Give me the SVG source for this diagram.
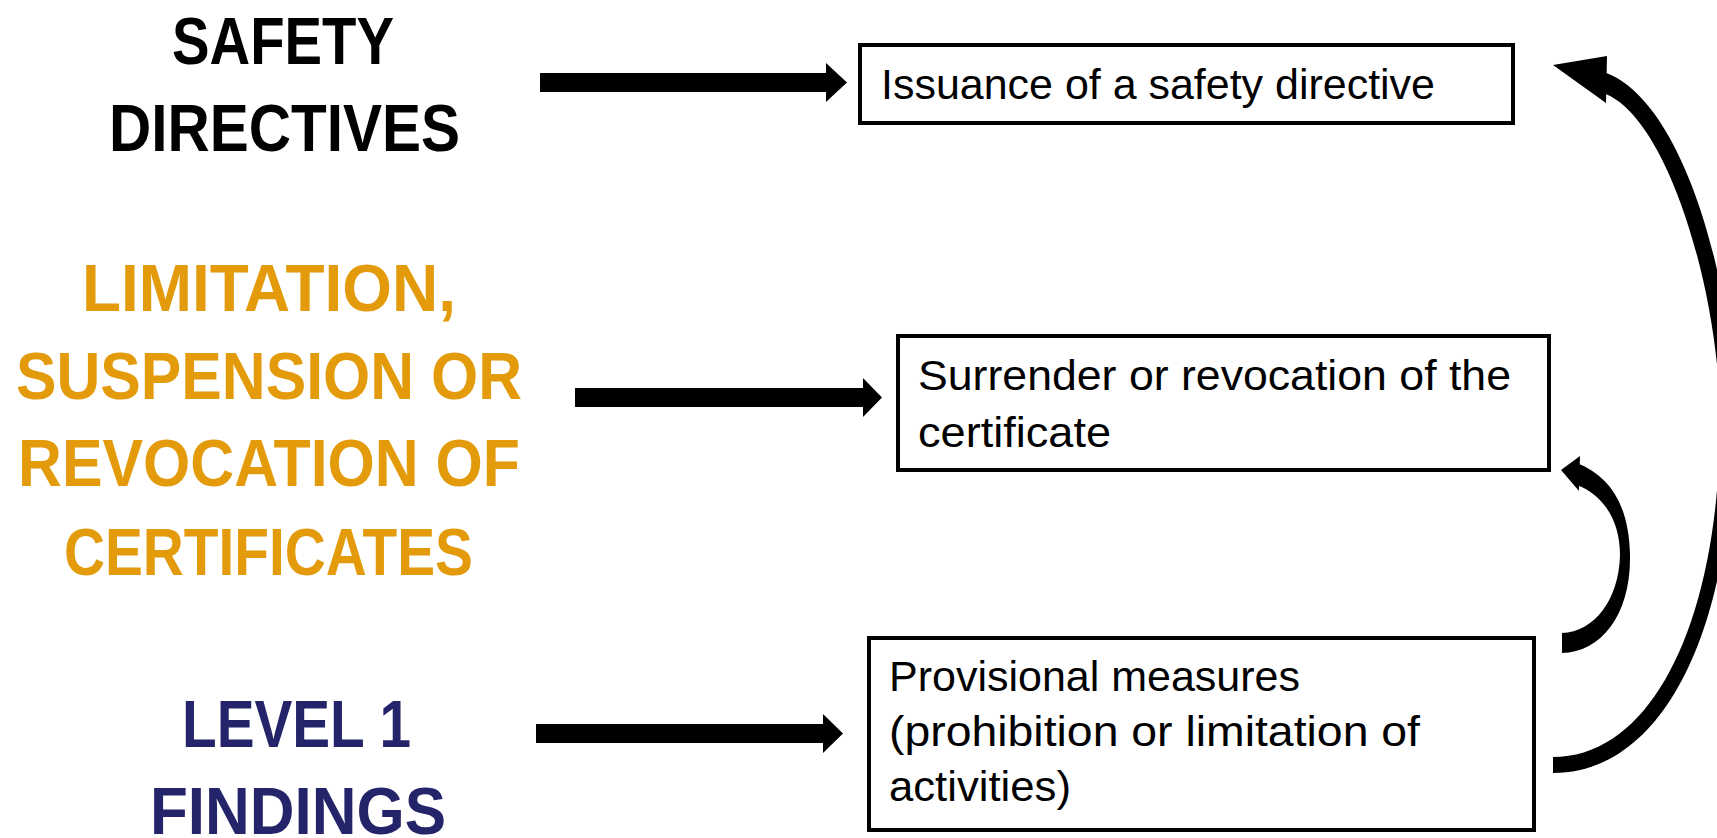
<svg xmlns="http://www.w3.org/2000/svg" width="1717" height="838" viewBox="0 0 1717 838">
<style>
.hd{font-family:"Liberation Sans",Arial,sans-serif;font-weight:bold;font-size:67px;}
.blk{fill:#000000;}
.org{fill:#E39B0B;}
.nvy{fill:#24246B;}
.box{fill:#ffffff;stroke:#000000;stroke-width:4;}
.bt{font-family:"Liberation Sans",Arial,sans-serif;font-size:42px;fill:#000000;}
.arr{fill:#000000;stroke:none;}
</style>
<rect x="0" y="0" width="1717" height="838" fill="#ffffff"/>
<g id="label-safety-directives">
<text class="hd blk" x="172" y="64" textLength="222" lengthAdjust="spacingAndGlyphs">SAFETY</text>
<text class="hd blk" x="109" y="151" textLength="351" lengthAdjust="spacingAndGlyphs">DIRECTIVES</text>
</g>
<g id="label-limitation">
<text class="hd org" x="82" y="311" textLength="374" lengthAdjust="spacingAndGlyphs">LIMITATION,</text>
<text class="hd org" x="16" y="399" textLength="506" lengthAdjust="spacingAndGlyphs">SUSPENSION OR</text>
<text class="hd org" x="18" y="486" textLength="502" lengthAdjust="spacingAndGlyphs">REVOCATION OF</text>
<text class="hd org" x="64" y="575" textLength="409" lengthAdjust="spacingAndGlyphs">CERTIFICATES</text>
</g>
<g id="label-level1">
<text class="hd nvy" x="182" y="747" textLength="229" lengthAdjust="spacingAndGlyphs">LEVEL 1</text>
<text class="hd nvy" x="150" y="834" textLength="296" lengthAdjust="spacingAndGlyphs">FINDINGS</text>
</g>
<g id="box-issuance">
<rect class="box" x="860" y="45" width="653" height="78"/>
<text class="bt" x="881" y="99" textLength="554" lengthAdjust="spacingAndGlyphs">Issuance of a safety directive</text>
</g>
<g id="box-surrender">
<rect class="box" x="898" y="336" width="651" height="134"/>
<text class="bt" x="918" y="390" textLength="593" lengthAdjust="spacingAndGlyphs">Surrender or revocation of the</text>
<text class="bt" x="918" y="447" textLength="193" lengthAdjust="spacingAndGlyphs">certificate</text>
</g>
<g id="box-provisional">
<rect class="box" x="869" y="638" width="665" height="192"/>
<text class="bt" x="889" y="691" textLength="411" lengthAdjust="spacingAndGlyphs">Provisional measures</text>
<text class="bt" x="889" y="746" textLength="531" lengthAdjust="spacingAndGlyphs">(prohibition or limitation of</text>
<text class="bt" x="889" y="801" textLength="182" lengthAdjust="spacingAndGlyphs">activities)</text>
</g>
<g id="connectors">
<polygon class="arr" points="540,73 826,73 826,63 847,82.5 826,102 826,92 540,92"/>
<polygon class="arr" points="575,388 863,388 863,378 882,397.5 863,417 863,407 575,407"/>
<polygon class="arr" points="536,724 823,724 823,714 843,733.5 823,753 823,743 536,743"/>
<path class="arr" d="M1562,653 C1601,652 1631,615 1630,555 C1629,505 1610,476 1577,463 L1577,485 C1603,495 1620,520 1620,555 C1619,600 1594,632 1562,633 Z"/>
<polygon class="arr" points="1580,456 1579,491 1561,470"/>
<path class="arr" d="M1603,72 C1682,96 1736,285 1733,420 C1734,625 1665,773 1553,773 L1553,757 C1655,757 1720,615 1720,420 C1720,295 1668,115 1603,93 Z"/>
<polygon class="arr" points="1607,56 1606,103 1553,65"/>
</g>
</svg>
